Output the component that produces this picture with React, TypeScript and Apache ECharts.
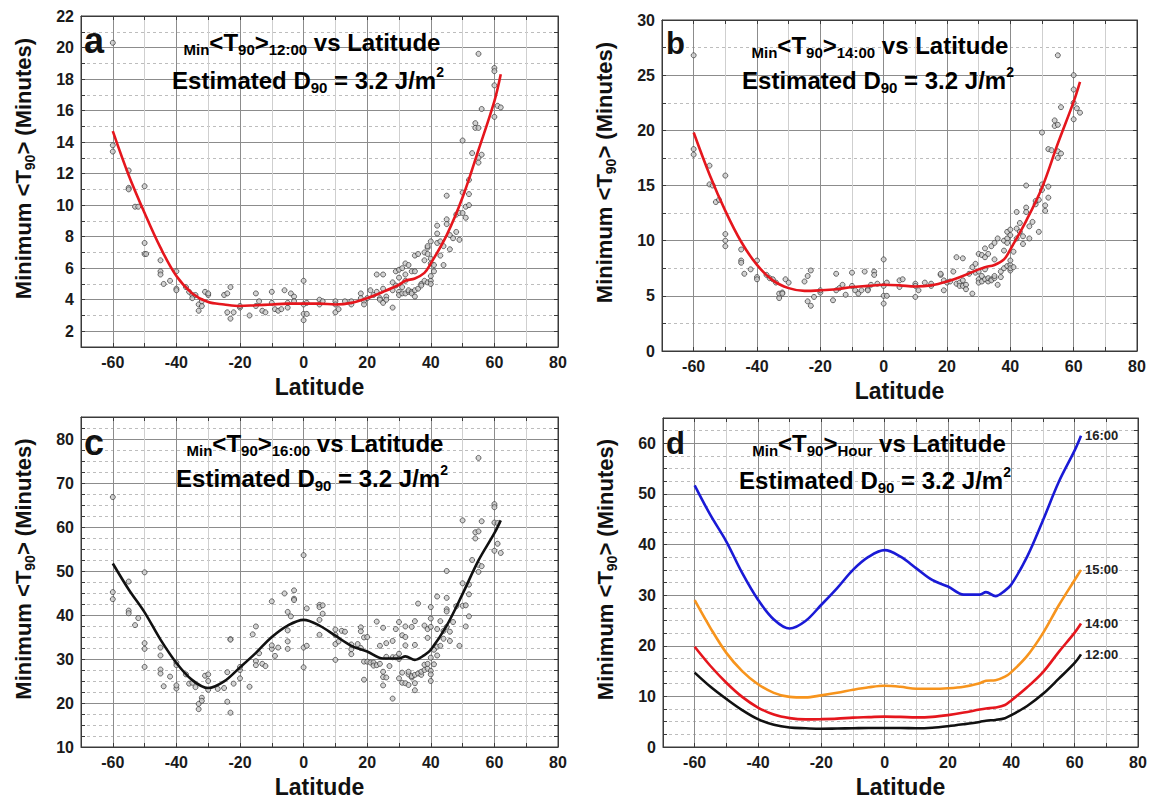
import React, { useEffect, useRef } from 'react';
import * as echarts from 'echarts';

const FONT = '"Liberation Sans", Arial, Helvetica, sans-serif';

// Fitted curves (latitude grid shared by all hours)
const curveLat = [-60, -55, -50, -45, -40, -35, -30, -25, -20, -15, -10, -5, 0, 5, 10, 15, 20, 25, 30, 32, 35, 38, 40, 45, 50, 55, 60, 62];
const t1200 = [14.7, 11.9, 9.5, 7.3, 5.5, 4.4, 3.85, 3.7, 3.6, 3.65, 3.7, 3.75, 3.75, 3.75, 3.7, 3.8, 4.1, 4.5, 4.95, 5.2, 5.35, 5.7, 6.3, 8.1, 10.5, 13.5, 16.6, 18.3];
const t1400 = [19.8, 16.0, 12.7, 9.9, 7.8, 6.4, 5.7, 5.45, 5.5, 5.6, 5.8, 5.9, 6.0, 5.95, 5.85, 5.95, 6.3, 6.8, 7.4, 7.6, 7.8, 8.3, 9.2, 11.8, 14.8, 18.8, 22.6, 24.4];
const t1500 = [29.0, 23.5, 18.6, 15.0, 12.4, 10.7, 9.9, 9.8, 10.2, 10.7, 11.3, 11.8, 12.1, 11.9, 11.5, 11.5, 11.6, 11.9, 12.6, 13.1, 13.2, 13.9, 14.8, 18.0, 22.5, 28.0, 33.0, 35.0];
const t1600 = [51.7, 45.8, 40.6, 34.4, 29.1, 25.2, 23.4, 24.9, 28.1, 31.4, 35.0, 37.6, 38.9, 37.6, 35.3, 33.0, 31.7, 30.1, 30.1, 30.6, 29.8, 30.9, 32.1, 37.6, 44.8, 52.4, 58.6, 61.5];

// Scatter observations [latitude, minutes]
const scatter1200: number[][] = [
  [-60, 20.3], [-60, 13.8], [-60, 13.4], [-55, 12.2], [-55, 11.1], [-55, 11.0], [-53, 9.9], [-52, 9.9],
  [-50, 11.2], [-50, 7.6], [-50, 6.9], [-49.5, 6.9], [-45, 5.8], [-45, 5.6], [-45, 6.5], [-44, 5.0], [-42, 5.2],
  [-40, 5.8], [-40, 4.7], [-40, 4.6], [-37, 4.8], [-36, 4.5], [-35, 4.3], [-35, 4.1], [-34, 4.3], [-33, 3.3],
  [-33, 3.7], [-32, 3.6], [-32, 3.9], [-31, 4.5], [-30, 4.3], [-30, 4.4], [-25, 4.3], [-24, 3.2], [-24, 4.4],
  [-23, 2.8], [-23, 4.8], [-22, 3.2], [-20, 3.5], [-20, 3.6], [-17, 3.0], [-15, 4.4], [-15, 3.6], [-14, 3.9],
  [-13, 3.3], [-12, 3.2], [-10, 4.5], [-10, 3.8], [-9, 3.4], [-8, 3.3], [-7, 3.4], [-6, 4.6], [-5, 3.5],
  [-5, 3.8], [-4, 4.4], [-3, 4.2], [-3, 3.9], [0, 5.2], [0, 3.1], [0, 2.7], [0, 3.7], [1, 3.1], [1, 3.8],
  [5, 4.0], [5, 3.7], [6, 3.9], [10, 3.9], [10, 3.2], [10, 3.7], [11, 3.4], [13, 3.9], [15, 3.7], [15, 3.9],
  [18, 4.4], [18, 4.1], [19, 3.9], [19, 3.7], [20, 4.1], [21, 4.6], [22, 4.3], [23, 5.6], [23, 4.5], [24, 4.1],
  [24, 4.0], [25, 5.6], [25, 4.7], [25, 3.8], [26, 4.2], [26, 4.0], [28, 3.5], [28, 5.1], [28, 4.6], [29, 4.9],
  [29, 5.8], [30, 5.9], [30, 5.4], [30, 4.5], [30, 4.3], [31, 6.0], [31, 4.8], [31, 4.4], [32, 6.3], [32, 5.6],
  [32, 5.2], [32, 4.4], [33, 4.5], [33, 4.6], [33, 6.2], [34, 5.8], [34, 4.5], [34, 4.4], [35, 6.8], [35, 5.8],
  [35, 4.2], [35, 4.6], [36, 6.9], [36, 4.7], [37, 5.0], [37, 4.9], [38, 6.5], [38, 7.0], [38, 5.2], [39, 7.3],
  [39, 5.1], [39, 7.4], [39, 6.9], [40, 7.7], [40, 5.5], [40, 5.2], [40, 5.0], [40, 6.6], [40, 6.3], [41, 5.8],
  [41, 6.2], [42, 8.7], [42, 8.2], [42, 7.6], [43, 7.7], [43, 6.8], [44, 7.4], [44, 6.2], [45, 10.6], [45, 9.1],
  [45, 8.8], [46, 7.2], [46, 8.1], [47, 7.9], [48, 8.3], [48, 9.4], [49, 9.5], [49, 7.8], [50, 14.1], [50, 10.8],
  [50, 9.5], [51, 9.2], [51, 9.9], [52, 10.0], [52, 10.7], [52, 11.6], [53, 13.3], [54, 15.2], [54, 14.9],
  [55, 19.6], [55, 14.9], [55, 13.0], [55, 12.7], [56, 13.2], [56, 16.1], [60, 18.7], [60, 18.5], [60, 17.6],
  [60, 15.6], [61, 16.3], [62, 16.2],
];

const scatter1400: number[][] = [
  [-60, 26.8], [-60, 18.3], [-60, 17.8], [-55, 16.8], [-55, 15.1], [-54, 15.0], [-53, 13.5], [-52, 13.7],
  [-50, 15.9], [-50, 10.6], [-50, 10.0], [-50, 9.5], [-45, 9.2], [-45, 8.2], [-45, 8.0], [-44, 7.0], [-42, 7.4],
  [-40, 8.2], [-40, 6.7], [-40, 6.5], [-37, 6.9], [-36, 6.6], [-35, 6.5], [-34, 6.2], [-33, 4.8], [-33, 5.2],
  [-32, 5.3], [-32, 5.2], [-31, 6.5], [-30, 6.2], [-25, 6.3], [-24, 6.8], [-24, 4.5], [-23, 7.3], [-23, 4.1],
  [-22, 4.9], [-20, 5.3], [-20, 5.5], [-16, 4.6], [-15, 7.0], [-15, 5.5], [-14, 5.7], [-13, 6.0], [-12, 5.1],
  [-10, 7.1], [-10, 5.9], [-9, 5.5], [-8, 5.2], [-7, 5.5], [-6, 7.2], [-5, 5.6], [-5, 5.5], [-4, 6.0], [-3, 7.2],
  [-3, 6.9], [-2, 6.1], [0, 8.3], [0, 5.0], [0, 4.3], [0, 5.9], [1, 5.0], [1, 6.2], [5, 6.4], [5, 5.8], [6, 6.5],
  [10, 6.1], [10, 4.9], [10, 5.9], [11, 5.5], [13, 6.2], [15, 5.9], [15, 6.1], [18, 6.9], [18, 7.0], [19, 6.4],
  [19, 5.5], [20, 6.2], [21, 6.3], [22, 7.2], [23, 8.5], [23, 6.1], [24, 6.2], [24, 5.9], [25, 8.4], [25, 6.4],
  [25, 5.9], [26, 6.0], [26, 5.6], [27, 7.0], [28, 5.2], [28, 7.6], [29, 7.1], [29, 7.9], [30, 8.8], [30, 7.2],
  [30, 6.5], [30, 6.2], [31, 8.7], [31, 6.8], [31, 6.3], [32, 9.3], [32, 8.5], [32, 7.4], [32, 6.5], [33, 6.3],
  [33, 6.6], [33, 8.8], [34, 9.5], [34, 6.5], [34, 6.4], [35, 9.8], [35, 8.3], [35, 6.6], [35, 6.8], [36, 10.2],
  [36, 6.0], [37, 6.7], [37, 7.2], [38, 10.0], [38, 9.1], [38, 7.5], [39, 10.2], [39, 7.7], [39, 10.8], [39, 9.8],
  [40, 11.0], [40, 7.8], [40, 7.3], [40, 7.5], [40, 8.2], [40, 10.5], [41, 7.6], [41, 9.0], [42, 12.6], [42, 11.1],
  [42, 10.2], [43, 11.6], [43, 10.8], [44, 10.4], [44, 9.7], [45, 15.0], [45, 13.0], [45, 12.6], [46, 10.2],
  [46, 11.3], [47, 11.7], [48, 13.3], [48, 13.6], [49, 10.8], [49, 13.7], [50, 19.8], [50, 15.1], [50, 14.6],
  [51, 13.2], [51, 12.7], [52, 13.9], [52, 14.9], [52, 18.3], [53, 18.2], [54, 20.4], [54, 20.9], [55, 26.8],
  [55, 20.5], [55, 18.1], [55, 17.5], [56, 17.9], [56, 22.1], [60, 25.0], [60, 23.7], [60, 22.5], [60, 21.0],
  [61, 22.0], [62, 21.6],
];

const scatter1600: number[][] = [
  [-60, 66.8], [-60, 45.2], [-60, 43.6], [-55, 47.6], [-55, 41.0], [-55, 40.4], [-53, 37.7], [-52, 39.3],
  [-50, 49.7], [-50, 33.6], [-50, 32.3], [-50, 28.2], [-45, 32.6], [-45, 30.8], [-45, 27.6], [-45, 26.7],
  [-44, 23.8], [-42, 26.0], [-40, 29.2], [-40, 28.6], [-40, 23.3], [-40, 24.0], [-37, 26.5], [-36, 24.4],
  [-35, 24.6], [-34, 23.6], [-33, 18.6], [-33, 19.8], [-32, 21.2], [-32, 20.5], [-31, 26.2], [-30, 26.5],
  [-30, 25.0], [-30, 23.0], [-27, 23.2], [-25, 23.4], [-24, 27.0], [-24, 20.3], [-23, 34.5], [-23, 34.4],
  [-23, 17.8], [-22, 24.4], [-20, 25.6], [-20, 27.5], [-20, 28.2], [-17, 23.7], [-16, 35.6], [-15, 37.4],
  [-15, 29.5], [-15, 28.6], [-14, 31.3], [-13, 28.9], [-12, 28.4], [-10, 43.1], [-10, 32.3], [-10, 33.1],
  [-9, 30.7], [-8, 32.6], [-6, 44.9], [-5, 40.7], [-5, 36.5], [-5, 34.0], [-5, 32.3], [-4, 39.7], [-3, 45.6],
  [-3, 43.7], [-3, 43.4], [0, 53.6], [0, 32.6], [0, 28.1], [1, 33.0], [1, 41.5], [5, 42.3], [5, 41.8], [5, 38.9],
  [5, 35.5], [6, 42.2], [6, 40.3], [10, 36.7], [10, 35.5], [10, 33.4], [10, 29.8], [11, 34.0], [12, 36.4],
  [13, 36.2], [15, 32.2], [15, 31.1], [15, 33.3], [17, 33.4], [18, 37.2], [18, 36.3], [18, 32.5], [19, 34.9],
  [19, 29.4], [19, 25.3], [20, 35.0], [20, 29.4], [21, 29.2], [22, 29.2], [22, 28.5], [23, 38.5], [23, 28.6],
  [24, 33.0], [24, 28.9], [25, 37.1], [25, 27.1], [25, 25.9], [25, 24.0], [26, 33.6], [26, 30.5], [26, 25.8],
  [27, 28.4], [28, 21.0], [28, 30.4], [28, 34.1], [29, 36.8], [29, 30.4], [30, 38.4], [30, 25.6], [30, 31.2],
  [30, 30.0], [31, 35.4], [31, 26.9], [31, 24.6], [32, 37.4], [32, 35.0], [32, 33.1], [32, 24.5], [33, 26.5],
  [33, 24.1], [33, 27.1], [34, 37.3], [34, 25.8], [34, 26.1], [35, 38.6], [35, 33.2], [35, 26.4], [35, 22.9],
  [35, 24.5], [36, 42.6], [36, 26.7], [37, 26.4], [37, 27.1], [38, 37.6], [38, 28.7], [38, 27.5], [39, 36.8],
  [39, 34.8], [39, 27.8], [39, 28.9], [40, 41.8], [40, 39.2], [40, 37.3], [40, 27.3], [40, 26.5], [40, 25.0],
  [40, 30.3], [41, 32.1], [41, 28.8], [42, 44.2], [42, 36.8], [42, 32.8], [42, 30.8], [43, 38.6], [43, 33.0],
  [44, 34.6], [44, 36.4], [45, 50.0], [45, 43.9], [45, 41.3], [45, 40.8], [45, 37.3], [46, 34.1], [46, 36.2],
  [47, 38.4], [48, 42.0], [49, 33.0], [50, 61.5], [50, 47.2], [50, 42.1], [51, 37.4], [51, 42.2], [52, 44.7],
  [52, 46.9], [52, 39.7], [53, 52.5], [54, 57.4], [54, 58.8], [55, 75.7], [55, 59.0], [55, 51.4], [55, 49.8],
  [56, 51.1], [56, 61.3], [60, 65.2], [60, 64.5], [60, 61.0], [60, 54.6], [61, 56.2], [61, 60.9], [62, 54.1],
];

const hourLabels = ['12:00', '14:00', '15:00', '16:00'];
const hourSubs = ['12:00', '14:00', '16:00', 'Hour'];
const panelLetters = ['a', 'b', 'c', 'd'];

// Axis ranges per panel
const yMins = [1, 0, 10, 0];
const yMaxs = [22, 30, 85, 65];
const yIntervals = [1, 2.5, 2.5, 2.5];
const yMajorSteps = [2, 5, 10, 10];
const yLabelMax = [22, 30, 80, 60];
const xMin = -70;
const xMax = 80;
const xStep = 10;
const xMajorStep = 20;

const grids = [
  { left: 81, top: 16, width: 477, height: 331 },
  { left: 662, top: 20, width: 475, height: 331 },
  { left: 81, top: 417, width: 477, height: 330 },
  { left: 663, top: 418, width: 475, height: 329 },
];

const titlePos = [
  { x1: 312, y1: 42, x2: 308, y2: 80 },
  { x1: 880, y1: 45, x2: 878, y2: 80 },
  { x1: 315, y1: 443, x2: 312, y2: 478 },
  { x1: 879, y1: 443, x2: 875, y2: 480 },
];
const letterPos = [
  { x: 84, y: 40, size: 36 },
  { x: 666, y: 43, size: 31 },
  { x: 84, y: 442, size: 36 },
  { x: 666, y: 443, size: 31 },
];

const MAJOR = '#8c8c8c';
const MINOR_X = '#cfcfcf';
const MINOR_Y = '#bdbdbd';
const AXIS = '#3a3a3a';

function ticks(min: number, max: number, step: number) {
  const out: number[] = [];
  for (let v = min; v <= max + 1e-9; v += step) out.push(Math.round(v * 1000) / 1000);
  return out;
}
const isMult = (v: number, m: number) => Math.abs(v / m - Math.round(v / m)) < 1e-6;

function zip(xs: number[], ys: number[]) {
  return xs.map((x, i) => [x, ys[i]]);
}

const tickLabelStyle = {
  fontSize: 16,
  fontWeight: 'bold' as const,
  color: '#1a1a1a',
  fontFamily: FONT,
};

export default function App() {
  const ref = useRef<HTMLDivElement>(null);
  useEffect(() => {
    const chart = echarts.init(ref.current!, null, { renderer: 'svg' });
    const xTicks = ticks(xMin, xMax, xStep);
    const xColors = xTicks.map((v) => (isMult(v, xMajorStep) ? MAJOR : MINOR_X));

    const xAxis: any[] = [];
    const yAxis: any[] = [];
    grids.forEach((g, i) => {
      xAxis.push({
        type: 'value', gridIndex: i, position: 'bottom', min: xMin, max: xMax, interval: xStep,
        axisLine: { show: true, onZero: false, lineStyle: { color: AXIS, width: 1 } },
        axisTick: { show: true, inside: true, length: 4, lineStyle: { color: AXIS } },
        axisLabel: {
          ...tickLabelStyle, margin: 7,
          formatter: (v: number) => (isMult(v, xMajorStep) ? String(v) : ''),
        },
        splitLine: { show: true, lineStyle: { color: xColors, width: 1 } },
        name: 'Latitude', nameLocation: 'middle', nameGap: 28,
        nameTextStyle: { fontSize: 23, fontWeight: 'bold', color: '#111', fontFamily: FONT },
      });
      xAxis.push({
        type: 'value', gridIndex: i, position: 'top', min: xMin, max: xMax, interval: xStep,
        axisLine: { show: true, onZero: false, lineStyle: { color: AXIS, width: 1 } },
        axisTick: { show: true, inside: true, length: 4, lineStyle: { color: AXIS } },
        axisLabel: { show: false },
        splitLine: { show: false },
      });
      const yt = ticks(yMins[i], yMaxs[i], yIntervals[i]);
      const majorColors = yt.map((v) => (isMult(v, yMajorSteps[i]) ? MAJOR : 'transparent'));
      const minorColors = yt.map((v) => (isMult(v, yMajorSteps[i]) ? 'transparent' : MINOR_Y));
      yAxis.push({
        type: 'value', gridIndex: i, position: 'left', min: yMins[i], max: yMaxs[i], interval: yIntervals[i],
        axisLine: { show: true, onZero: false, lineStyle: { color: AXIS, width: 1 } },
        axisTick: { show: true, inside: true, length: 4, lineStyle: { color: AXIS } },
        axisLabel: {
          ...tickLabelStyle, margin: 7,
          formatter: (v: number) => (isMult(v, yMajorSteps[i]) && v <= yLabelMax[i] ? String(v) : ''),
        },
        splitLine: { show: true, lineStyle: { color: majorColors, width: 1 } },
        name: '{b|Minimum <T}{s|90}{b|> (Minutes)}',
        nameLocation: 'middle',
        nameGap: 44,
        nameTextStyle: {
          padding: [0, 0, 0, 26],
          rich: {
            b: { fontSize: 22, fontWeight: 'bold', color: '#111', fontFamily: FONT, lineHeight: 28 },
            s: { fontSize: 14, fontWeight: 'bold', color: '#111', fontFamily: FONT, lineHeight: 12, verticalAlign: 'bottom' },
          },
        },
      });
      yAxis.push({
        type: 'value', gridIndex: i, position: 'right', min: yMins[i], max: yMaxs[i], interval: yIntervals[i],
        axisLine: { show: true, onZero: false, lineStyle: { color: AXIS, width: 1 } },
        axisTick: { show: true, inside: true, length: 4, lineStyle: { color: AXIS } },
        axisLabel: { show: false },
        splitLine: { show: true, lineStyle: { color: minorColors, width: 1, type: [3, 3] } },
      });
    });

    const scatterStyle = {
      type: 'scatter', symbol: 'circle', symbolSize: 5, z: 2,
      itemStyle: { color: '#c8c8c8', borderColor: '#333', borderWidth: 0.9 },
    };
    const lineBase = { type: 'line', smooth: 0.35, showSymbol: false, z: 3 };

    const series: any[] = [
      { ...scatterStyle, name: 'obs12', xAxisIndex: 0, yAxisIndex: 0, data: scatter1200 },
      { ...lineBase, name: 'fit12', xAxisIndex: 0, yAxisIndex: 0, data: zip(curveLat, t1200), lineStyle: { color: '#e5161d', width: 2.6 } },
      { ...scatterStyle, name: 'obs14', xAxisIndex: 2, yAxisIndex: 2, data: scatter1400 },
      { ...lineBase, name: 'fit14', xAxisIndex: 2, yAxisIndex: 2, data: zip(curveLat, t1400), lineStyle: { color: '#e5161d', width: 2.6 } },
      { ...scatterStyle, name: 'obs16', xAxisIndex: 4, yAxisIndex: 4, data: scatter1600 },
      { ...lineBase, name: 'fit16', xAxisIndex: 4, yAxisIndex: 4, data: zip(curveLat, t1600), lineStyle: { color: '#111', width: 2.6 } },
    ];
    const dCurves = [t1200, t1400, t1500, t1600];
    const dColors = ['#111111', '#e5161d', '#f7941d', '#1a1ad6'];
    dCurves.forEach((c, k) => {
      series.push({
        ...lineBase, name: 'd' + hourLabels[k], xAxisIndex: 6, yAxisIndex: 6,
        data: zip(curveLat, c),
        lineStyle: { color: dColors[k], width: 2.6 },
        endLabel: {
          show: true, formatter: hourLabels[k], distance: 4,
          fontSize: 13, fontWeight: 'bold', color: '#222', fontFamily: FONT,
        },
      });
    });

    const big = (size: number) => ({ fontSize: size, fontWeight: 'bold', color: '#111', fontFamily: FONT, lineHeight: 30 });
    const sub = { fontSize: 15, fontWeight: 'bold', color: '#111', fontFamily: FONT, lineHeight: 11, verticalAlign: 'bottom' };
    const sup = { fontSize: 14, fontWeight: 'bold', color: '#111', fontFamily: FONT, lineHeight: 12, verticalAlign: 'top' };

    const graphic: any[] = [];
    grids.forEach((g, i) => {
      const tp = titlePos[i];
      graphic.push({
        type: 'text', x: tp.x1, y: tp.y1, z: 10,
        style: {
          text: `{s|Min}{b|<T}{s|90}{b|>}{s|${hourSubs[i]}}{b| vs Latitude}`,
          rich: { b: big(24), s: sub },
          align: 'center', verticalAlign: 'middle', textAlign: 'center', textVerticalAlign: 'middle',
        },
      });
      graphic.push({
        type: 'text', x: tp.x2, y: tp.y2, z: 10,
        style: {
          text: '{b|Estimated D}{s|90}{b| = 3.2 J/m}{p|2}',
          rich: { b: big(24), s: sub, p: sup },
          align: 'center', verticalAlign: 'middle', textAlign: 'center', textVerticalAlign: 'middle',
        },
      });
      const lp = letterPos[i];
      graphic.push({
        type: 'text', x: lp.x, y: lp.y, z: 10,
        style: {
          text: panelLetters[i], fontSize: lp.size, fontWeight: 'bold', fill: '#111', fontFamily: FONT,
          align: 'left', verticalAlign: 'middle', textAlign: 'left', textVerticalAlign: 'middle',
        },
      });
    });

    chart.setOption({
      animation: false,
      backgroundColor: '#ffffff',
      grid: grids.map((g) => ({ ...g, show: true, borderColor: AXIS, borderWidth: 1, backgroundColor: 'transparent' })),
      xAxis,
      yAxis,
      series,
      graphic,
    });
    return () => chart.dispose();
  }, []);
  return (
    <div
      ref={ref}
      style={{ position: 'absolute', left: 0, top: 0, width: 1151, height: 800, background: '#fff' }}
    />
  );
}
